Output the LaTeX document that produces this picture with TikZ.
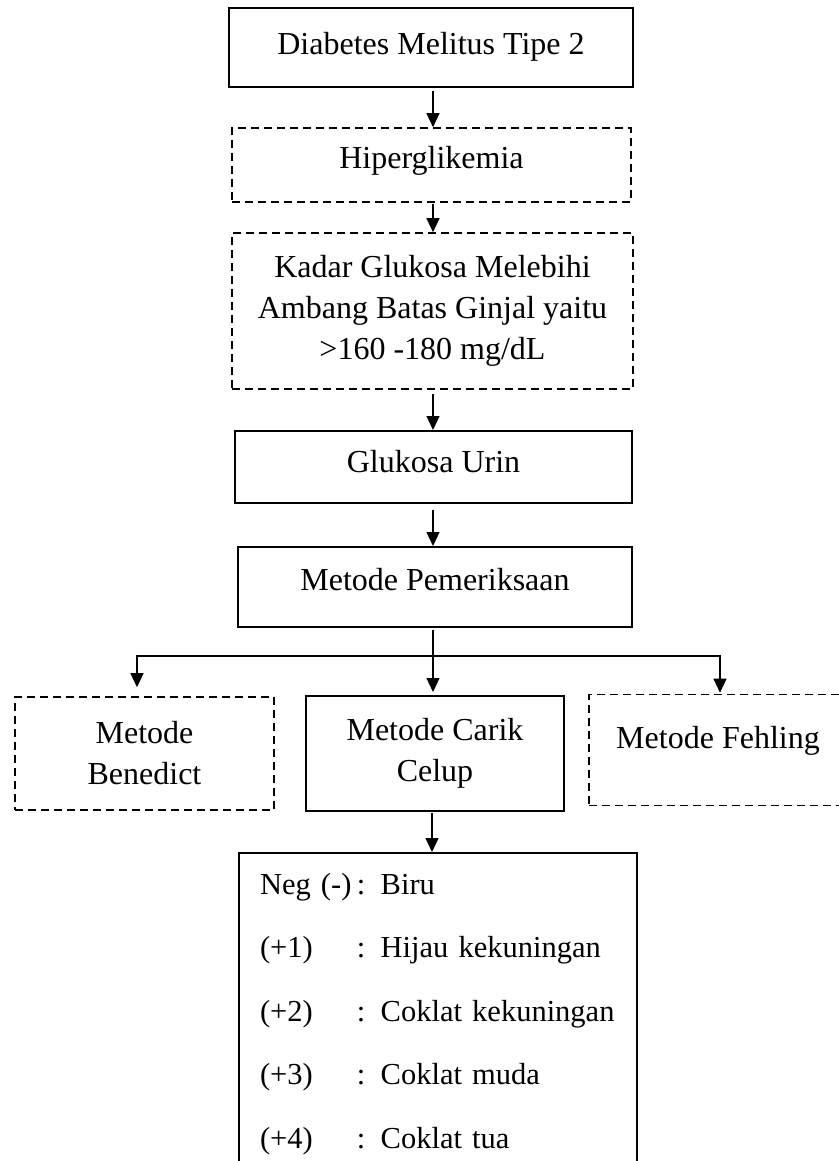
\documentclass[tikz,border=0pt]{standalone}
\usepackage{fontspec}
\setmainfont{Liberation Serif}
\usetikzlibrary{arrows.meta}
\begin{document}
\begin{tikzpicture}[x=1pt,y=-1pt,
  txt/.style={font=\fontsize{32}{41}\selectfont},
  solidbox/.style={draw, line width=2pt, rectangle, inner sep=0pt, txt},
  dashbox/.style={draw, line width=1.6pt, dash pattern=on 8pt off 5pt, rectangle, inner sep=0pt, txt},
  conn/.style={line width=1.3pt, -{Triangle[width=13pt,length=14pt]}},
  plain/.style={line width=1.3pt}
]
\useasboundingbox (0,0) rectangle (838,1161);

\node[solidbox, minimum width=404pt, minimum height=79pt, text height=22pt, text depth=7pt] (b1) at (431,47.5) {Diabetes Melitus Tipe 2};
\node[dashbox, minimum width=399pt, minimum height=74pt, text height=22pt, text depth=16pt] (b2) at (431.5,165) {Hiperglikemia};
\node[dashbox, minimum width=401pt, minimum height=156pt, align=center] (b3) at (432.5,311) {Kadar Glukosa Melebihi\\Ambang Batas Ginjal yaitu\\>160 -180 mg/dL};
\node[solidbox, minimum width=397pt, minimum height=72pt, text height=22pt, text depth=12pt] (b4) at (433.5,467) {Glukosa Urin};
\node[solidbox, minimum width=394pt, minimum height=80pt, text height=22pt, text depth=16pt] (b5) at (435,587) {Metode Pemeriksaan};

\node[dashbox, minimum width=259pt, minimum height=113pt, align=center] (ben) at (144.5,753.5) {Metode\\Benedict};
\node[solidbox, minimum width=258pt, minimum height=115pt, align=center] (car) at (435,753.5) {Metode Carik\\Celup};
\node[dashbox, minimum width=258pt, minimum height=111pt, text height=22pt, text depth=26pt] (feh) at (718,750) {Metode Fehling};

\node[draw, line width=2pt, rectangle, anchor=north, inner xsep=21pt, inner ysep=20pt,
  text width=356pt, align=left, font=\fontsize{30.5}{63.5}\selectfont] (res) at (438,852)
  {\makebox[97pt][l]{Neg (-)}\mbox{: Biru}\\
   \makebox[97pt][l]{(+1)}\mbox{: Hijau kekuningan}\\
   \makebox[97pt][l]{(+2)}\mbox{: Coklat kekuningan}\\
   \makebox[97pt][l]{(+3)}\mbox{: Coklat muda}\\
   \makebox[97pt][l]{(+4)}\mbox{: Coklat tua}};

\coordinate (split) at (433,656);

\draw[conn, shorten <=3pt] (b1.south -| split) -- (b2.north -| split);
\draw[conn, shorten <=1pt] (b2.south -| split) -- (b3.north -| split);
\draw[conn, shorten <=4pt] (b3.south -| split) -- (b4.north -| split);
\draw[conn, shorten <=6pt] (b4.south -| split) -- (b5.north -| split);
\draw[plain, shorten <=2pt] (b5.south -| split) -- (split);
\draw[conn, shorten >=9pt] (split) -| ([xshift=-7.5pt]ben.north);
\draw[conn, shorten >=3pt] (split) -- (split |- car.north);
\draw[conn, shorten >=1pt] (split) -| ([xshift=2pt]feh.north);
\draw[conn, shorten <=1pt] ([xshift=-3pt]car.south) -- ([xshift=-6pt]res.north);
\end{tikzpicture}
\end{document}
